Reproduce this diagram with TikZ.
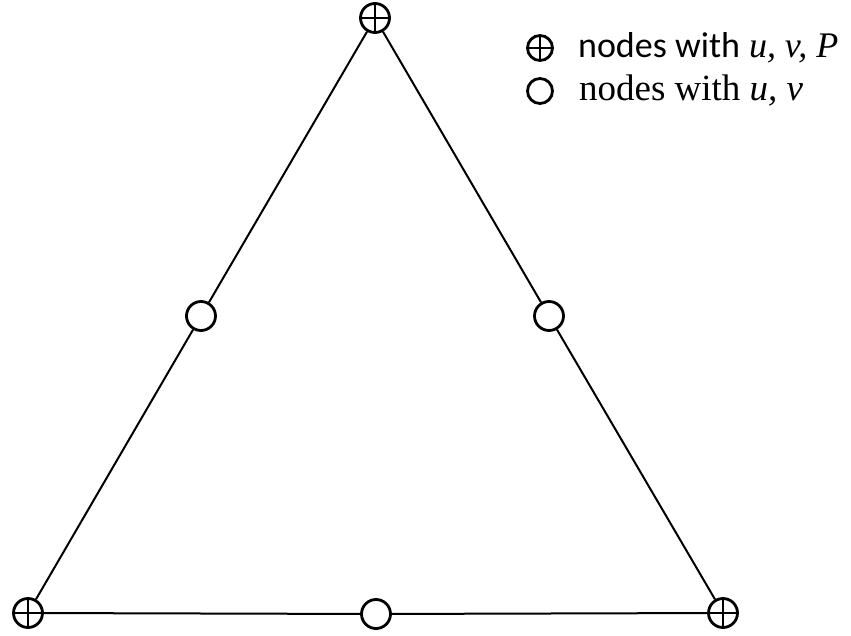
\documentclass[tikz,border=0pt]{standalone}
\usepackage{fontspec}
\setmainfont{Liberation Serif}
\newfontfamily\calib{Carlito}
\usetikzlibrary{positioning}
\tikzset{
  nd/.style = {circle, draw=black, fill=white, inner sep=0pt,
    minimum size=29pt, line width=2.8pt},
  ndp/.style = {nd, path picture={
      \draw [line width=2.2pt] (path picture bounding box.north) -- (path picture bounding box.south);
      \draw [line width=2.2pt] (path picture bounding box.west) -- (path picture bounding box.east);}},
  lg/.style = {nd, minimum size=25pt},
  lgp/.style = {ndp, minimum size=25pt},
  ed/.style = {draw=black, line width=2pt},
  txt/.style = {anchor=west, inner sep=0pt, font=\fontsize{36}{40}\selectfont}
}

\begin{document}
\begin{tikzpicture}[x=1pt, y=-1pt]
  \useasboundingbox (0,0) rectangle (851,636);
  % triangle
  \node [ndp] (t) at (375,18) {};
  \node [ndp] (bl) at (28,613) {};
  \node [ndp] (br) at (723,613) {};
  \node [nd] (ml) at (201,316) {};
  \node [nd] (mr) at (549,316) {};
  \node [nd] (bm) at (376,614) {};
  \draw [ed] (t) -- (ml) -- (bl) -- (bm) -- (br) -- (mr) -- (t);
  % legend
  \node [lgp] (k1) at (540,48) {};
  \node [lg] (k2) at (540,91) {};
  \node [txt, right=24pt of k1] {{\calib nodes with} \textit{u, v, P}};
  \node [txt, right=25pt of k2, font=\fontsize{37}{40}\selectfont] {nodes with \textit{u, v}};
\end{tikzpicture}
\end{document}
